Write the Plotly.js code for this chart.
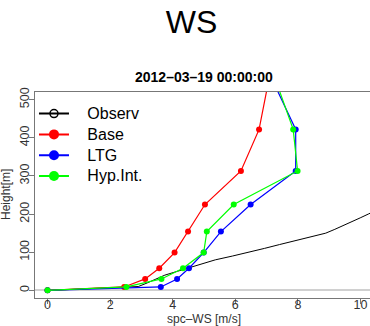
<!DOCTYPE html>
<html>
<head>
<meta charset="utf-8">
<script src="https://cdn.plot.ly/plotly-3.0.1.min.js"></script>
<style>
html,body{margin:0;padding:0;overflow:hidden;background:#fff;}
#chart{width:376px;height:326px;}
</style>
</head>
<body>
<div id="chart"></div>
<script>
// ---- data ----
var seriesNames = ["Observ", "Base", "LTG", "Hyp.Int."];
var seriesColors = ["#000000", "#ff0000", "#0000ff", "#00ff00"];

var obsHeight = [0, 10, 20, 30, 40, 50, 60, 70, 80, 90, 100, 110, 120, 130, 140, 150, 160, 170, 180, 190, 200, 210, 220, 230];
var obsWS     = [0, 2.9, 3.2, 3.45, 3.75, 4.15, 4.57, 4.94, 5.36, 5.91, 6.46, 6.93, 7.41, 7.9, 8.43, 8.89, 9.18, 9.47, 9.73, 9.99, 10.25, 10.5, 10.75, 11.0];

var modelHeight = [0, 9, 30, 58, 99, 154, 225, 313, 422, 535];
var baseWS  = [0, 2.45, 3.12, 3.57, 4.06, 4.49, 5.03, 6.18, 6.76, 7.03];
var ltgWS   = [0, 3.62, 4.14, 4.52, 4.99, 5.54, 6.49, 7.93, 7.93, 7.28];
var hypWS   = [0, 2.52, 3.64, 4.33, 4.99, 5.09, 5.95, 7.99, 7.85, 7.36];

var mainTitle = "WS";
var subTitle = "2012\u201303\u201319 00:00:00";
var xTitle = "spc\u2013WS [m/s]";
var yTitle = "Height[m]";
var xTicks = [0, 2, 4, 6, 8, 10];
var yTicks = [0, 100, 200, 300, 400, 500];

// ---- traces ----
var traces = [];
traces.push({x: obsWS, y: obsHeight, mode: "lines", line: {color: seriesColors[0], width: 1}, showlegend: false, hoverinfo: "skip"});
var modelSeries = [baseWS, ltgWS, hypWS];
for (var i = 0; i < modelSeries.length; i++) {
  traces.push({x: modelSeries[i], y: modelHeight, mode: "lines+markers",
    line: {color: seriesColors[i + 1], width: 1.2},
    marker: {color: seriesColors[i + 1], size: 6, symbol: "circle"},
    showlegend: false, hoverinfo: "skip"});
}
// legend-only entries
for (var j = 0; j < seriesNames.length; j++) {
  traces.push({x: [null], y: [null], mode: "lines+markers",
    name: "<span style=\"font-size:16px\">\u00a0\u00a0\u00a0" + seriesNames[j] + "</span>",
    line: {color: seriesColors[j], width: 2},
    marker: j === 0 ? {symbol: "circle-open", size: 8, color: "#000", line: {width: 1.5, color: "#000"}}
                    : {symbol: "circle", size: 10, color: seriesColors[j]},
    showlegend: true});
}

var W = 376, H = 326;
var layout = {
  width: W, height: H,
  margin: {l: 35, r: 3, t: 92, b: 28, pad: 0},
  paper_bgcolor: "#fff", plot_bgcolor: "#fff",
  font: {family: "Liberation Sans, Arial, sans-serif", color: "#000"},
  title: {text: mainTitle, font: {size: 32, color: "#000"}, xref: "container", yref: "container",
          x: 191.5 / W, xanchor: "center", y: 1 - 21.5 / H, yanchor: "middle"},
  xaxis: {range: [-0.4, 10.4], tickvals: xTicks, ticktext: xTicks.map(String),
          ticks: "outside", ticklen: 5, tickcolor: "#777", showgrid: false, zeroline: false,
          showline: true, mirror: true, linecolor: "#777", linewidth: 1,
          ticklabelstandoff: -10,
          tickfont: {size: 12.5, color: "#333"}},
  yaxis: {range: [-20, 520], tickvals: yTicks, ticktext: yTicks.map(String),
          ticks: "outside", ticklen: 5, tickcolor: "#777", showgrid: false,
          zeroline: true, zerolinecolor: "#d0d0d0", zerolinewidth: 2,
          showline: true, mirror: true, linecolor: "#777", linewidth: 1,
          ticklabelstandoff: -5,
          tickangle: -90, tickfont: {size: 12.5, color: "#333"}},
  legend: {x: -0.003, xanchor: "left", y: 0.97, yanchor: "top", bgcolor: "rgba(0,0,0,0)",
           font: {size: 13.7, color: "#000"}, tracegroupgap: 0, itemwidth: 30},
  annotations: [
    {text: "<b>" + subTitle + "</b>", xref: "paper", yref: "paper", x: 0.5, y: 1, yshift: 15,
     xanchor: "center", yanchor: "middle", showarrow: false, font: {size: 14, color: "#000"}},
    {text: xTitle, xref: "paper", yref: "paper", x: 0.5, y: 0, yshift: -20.5, borderpad: 0,
     xanchor: "center", yanchor: "middle", showarrow: false, font: {size: 12, color: "#333"}},
    {text: yTitle, xref: "paper", yref: "paper", x: -35 / 338, xshift: 6, y: 0.5, textangle: -90,
     xanchor: "center", yanchor: "middle", showarrow: false, font: {size: 12, color: "#333"}}
  ]
};

Plotly.newPlot("chart", traces, layout, {staticPlot: true, displayModeBar: false});
</script>
</body>
</html>
